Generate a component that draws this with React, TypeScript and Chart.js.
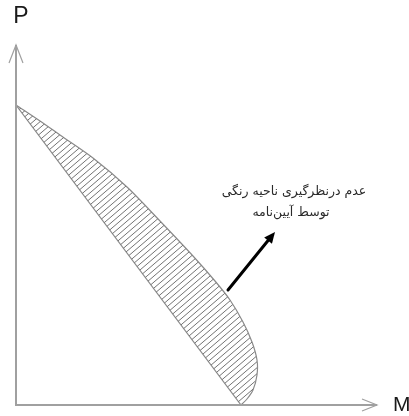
import React, { useEffect, useRef } from "react";
import { Chart, registerables } from "chart.js";

Chart.register(...registerables);

// Axis extents (data units)
const AXIS_X_MAX = 361;
const AXIS_Y_MAX = 360;

// Upper (outer) interaction curve
const CURVE_M = [0, 24, 44, 77, 111, 144, 177, 199, 214, 227, 236, 241, 241, 237, 231, 225];
const CURVE_P = [300, 284, 270, 247, 218, 184, 149, 124, 105, 83, 63, 45, 30, 15, 6, 0];

// Simplified straight line
const LINE_M = [0, 225];
const LINE_P = [300, 0];

// Annotation arrow (tail -> tip)
const ARROW_M = [212, 259];
const ARROW_P = [115, 173];

// Annotation text
const NOTE_LINES = ["عدم درنظرگیری ناحیه رنگی", "توسط آیین‌نامه"];
const NOTE_M = [278, 275];
const NOTE_P = [213, 192];

const AXIS_LABELS = ["M", "P"];

function makeHatch(): CanvasPattern | string {
  const W = 14;
  const H = 12;
  const c = document.createElement("canvas");
  c.width = W;
  c.height = H;
  const g = c.getContext("2d");
  if (!g) return "#888";
  g.strokeStyle = "#737373";
  g.lineWidth = 1;
  const s = H / W;
  g.beginPath();
  for (let k = -3; k <= 5; k++) {
    const off = k * (H / 2);
    g.moveTo(-2, off + 2 * s);
    g.lineTo(W + 2, off - (W + 2) * s);
  }
  g.stroke();
  const p = g.createPattern(c, "repeat");
  return p || "#888";
}

const decorPlugin = {
  id: "decor",
  afterDatasetsDraw(chart: any) {
    const ctx: CanvasRenderingContext2D = chart.ctx;
    const xs = chart.scales.x;
    const ys = chart.scales.y;
    const x0 = xs.getPixelForValue(0);
    const y0 = ys.getPixelForValue(0);
    const xEnd = xs.getPixelForValue(AXIS_X_MAX);
    const yEnd = ys.getPixelForValue(AXIS_Y_MAX);
    ctx.save();
    // axes
    ctx.strokeStyle = "#a0a0a0";
    ctx.lineWidth = 2;
    ctx.beginPath();
    ctx.moveTo(x0, y0 + 1);
    ctx.lineTo(x0, yEnd);
    ctx.moveTo(x0 - 1, y0);
    ctx.lineTo(xEnd, y0);
    ctx.stroke();
    ctx.lineWidth = 1.2;
    ctx.beginPath();
    ctx.moveTo(x0 - 7, yEnd + 18);
    ctx.lineTo(x0, yEnd);
    ctx.lineTo(x0 + 7, yEnd + 18);
    ctx.moveTo(xEnd - 15, y0 - 6);
    ctx.lineTo(xEnd, y0);
    ctx.lineTo(xEnd - 15, y0 + 6);
    ctx.stroke();

    // axis labels
    ctx.fillStyle = "#1a1a1a";
    ctx.textBaseline = "middle";
    ctx.font = "21px 'Liberation Sans', Arial, sans-serif";
    ctx.textAlign = "left";
    ctx.fillText(AXIS_LABELS[0], xEnd + 16, y0);
    ctx.font = "23px 'Liberation Sans', Arial, sans-serif";
    ctx.textAlign = "center";
    ctx.fillText(AXIS_LABELS[1], x0 + 5, yEnd - 28);

    // annotation arrow
    const ax1 = xs.getPixelForValue(ARROW_M[0]);
    const ay1 = ys.getPixelForValue(ARROW_P[0]);
    const ax2 = xs.getPixelForValue(ARROW_M[1]);
    const ay2 = ys.getPixelForValue(ARROW_P[1]);
    const ang = Math.atan2(ay2 - ay1, ax2 - ax1);
    const headLen = 11;
    const headHalf = 5;
    const bx = ax2 - headLen * Math.cos(ang);
    const by = ay2 - headLen * Math.sin(ang);
    ctx.strokeStyle = "#000";
    ctx.fillStyle = "#000";
    ctx.lineWidth = 3;
    ctx.lineCap = "round";
    ctx.beginPath();
    ctx.moveTo(ax1, ay1);
    ctx.lineTo(bx, by);
    ctx.stroke();
    ctx.beginPath();
    ctx.moveTo(ax2, ay2);
    ctx.lineTo(bx + headHalf * Math.sin(ang), by - headHalf * Math.cos(ang));
    ctx.lineTo(bx - headHalf * Math.sin(ang), by + headHalf * Math.cos(ang));
    ctx.closePath();
    ctx.fill();

    // annotation text
    ctx.fillStyle = "#2a2a2a";
    ctx.textAlign = "center";
    ctx.textBaseline = "middle";
    (ctx as any).direction = "rtl";
    ctx.font = "12.5px 'DejaVu Sans', 'Noto Sans', sans-serif";
    NOTE_LINES.forEach((t, i) => {
      ctx.fillText(t, xs.getPixelForValue(NOTE_M[i]), ys.getPixelForValue(NOTE_P[i]));
    });
    ctx.restore();
  },
};

export default function App() {
  const ref = useRef<HTMLCanvasElement>(null);
  useEffect(() => {
    if (!ref.current) return;
    const curve = CURVE_M.map((m, i) => ({ x: m, y: CURVE_P[i] }));
    const line = LINE_M.map((m, i) => ({ x: m, y: LINE_P[i] }));
    const polygon = [...curve, ...line.slice().reverse().slice(1)];
    const chart = new Chart(ref.current, {
      type: "line",
      data: {
        datasets: [
          {
            data: polygon,
            fill: "shape",
            backgroundColor: makeHatch() as any,
            borderWidth: 0,
            borderColor: "rgba(0,0,0,0)",
            pointRadius: 0,
            tension: 0,
          },
          {
            data: curve,
            fill: false,
            borderColor: "#8a8a8a",
            borderWidth: 1.2,
            pointRadius: 0,
            tension: 0.3,
          },
          {
            data: line,
            fill: false,
            borderColor: "#8a8a8a",
            borderWidth: 1.2,
            pointRadius: 0,
            tension: 0,
          },
        ],
      },
      options: {
        responsive: false,
        animation: false,
        devicePixelRatio: 1,
        layout: { padding: { left: 16, right: 32, top: 45, bottom: 11 } },
        plugins: {
          legend: { display: false },
          tooltip: { enabled: false },
        },
        events: [],
        scales: {
          x: { type: "linear", min: 0, max: AXIS_X_MAX, display: false },
          y: { type: "linear", min: 0, max: AXIS_Y_MAX, display: false },
        },
      },
      plugins: [decorPlugin],
    });
    return () => chart.destroy();
  }, []);
  return (
    <div style={{ position: "absolute", left: 0, top: 0, width: 409, height: 416, background: "#fff" }}>
      <canvas ref={ref} width={409} height={416} />
    </div>
  );
}
